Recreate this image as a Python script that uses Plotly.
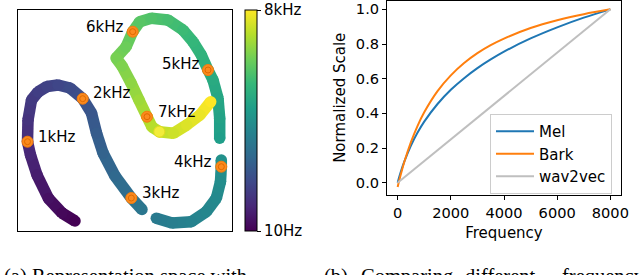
import plotly.graph_objects as go
from plotly.colors import sample_colorscale

# ---------------- Panel (a): representation space ----------------
# frequency (Hz) of each traced point along the embedded curve, its 2-D position, and segment id
curve_freq = [10, 170, 380, 650, 870, 1000, 1200, 1390, 1500, 1600, 1710, 1840, 2000,
              2150, 2335, 2520, 2720, 3000, 3140,
              3300, 3420, 3560, 3680, 3790, 3900, 4000, 4040,
              4450, 4600, 4750, 4890, 5000, 5150, 5300, 5440, 5610, 5760, 5880, 6000,
              6170, 6320, 6420, 6620, 6810, 7000, 7130, 7230, 7400, 7590, 7780, 8000]
curve_x = [57, 44, 30.5, 19, 12.5, 9.5, 10, 13.5, 20, 29, 40, 52, 64.7,
           73.5, 78.5, 85, 97, 113.3, 124,
           138.3, 154, 173.3, 188.3, 198.3, 202.5, 203.3, 203.3,
           201.7, 201.7, 200, 195, 190, 183.3, 175, 165, 150, 133.3, 121.7, 114.7,
           108, 98, 104, 113, 121, 129, 134, 141.3, 155.3, 168.7, 182, 192.7]
curve_y = [10, 18, 32.5, 56, 76, 89.3, 111, 131, 139, 144.5, 146, 143, 132.3,
           118, 98, 78, 55, 33, 21.5,
           12.7, 8, 9.3, 19.3, 32.7, 49.3, 64.3, 71,
           92.7, 112.7, 132.7, 151, 161, 176, 189.3, 201, 211, 212.7, 209.3, 199.3,
           184, 173, 165, 148, 131, 114.3, 104, 99.3, 97.7, 106, 116, 129.3]
curve_seg = [0] * 19 + [1] * 8 + [2] * 24

marked_freqs = [1000, 2000, 3000, 4000, 5000, 6000, 7000]
marked_labels = ["1kHz", "2kHz", "3kHz", "4kHz", "5kHz", "6kHz", "7kHz"]
extra_marked_freq = 7230

cbar_vals = [10, 8000]
cbar_text = ["10Hz", "8kHz"]

# ---------------- Panel (b): frequency scales ----------------
freq_axis = [0, 125, 250, 500, 750, 1000, 1500, 2000, 2500, 3000, 3500, 4000,
             5000, 6000, 7000, 8000]
mel_vals = [0.0, 0.065, 0.121, 0.214, 0.289, 0.352, 0.454, 0.536, 0.603, 0.661,
            0.711, 0.756, 0.832, 0.896, 0.952, 1.0]
bark_vals = [-0.025, 0.051, 0.119, 0.234, 0.328, 0.406, 0.528, 0.619, 0.690, 0.747,
             0.793, 0.831, 0.892, 0.937, 0.972, 1.0]
w2v_freq = [0, 8000]
w2v_vals = [0.0, 1.0]

series_names = ["Mel", "Bark", "wav2vec"]
series_colors = ["#1f77b4", "#ff7f0e", "#bfbfbf"]

W, H = 640, 275
FONT = "DejaVu Sans"

fig = go.Figure()

fmin, fmax = 10, 8000
lw = 11.5
# colored stroke pieces
for i in range(len(curve_freq) - 1):
    if curve_seg[i] != curve_seg[i + 1]:
        continue
    fm = 0.5 * (curve_freq[i] + curve_freq[i + 1])
    col = sample_colorscale("Viridis", [(fm - fmin) / (fmax - fmin)])[0]
    fig.add_trace(go.Scatter(
        x=[curve_x[i], curve_x[i + 1]], y=[curve_y[i], curve_y[i + 1]],
        mode="lines", line=dict(color=col, width=lw),
        showlegend=False, hoverinfo="skip", xaxis="x", yaxis="y"))

# joints + colorbar
fig.add_trace(go.Scatter(
    x=curve_x, y=curve_y, mode="markers", showlegend=False, xaxis="x", yaxis="y",
    marker=dict(size=lw, color=curve_freq, colorscale="Viridis", cmin=fmin, cmax=fmax,
                line=dict(width=0),
                colorbar=dict(x=245 / W, xanchor="left", xpad=0, ypad=0,
                              y=1 - 120.5 / H, yanchor="middle",
                              thickness=12, len=221, lenmode="pixels",
                              outlinecolor="black", outlinewidth=1,
                              tickvals=cbar_vals, ticktext=cbar_text,
                              ticks="outside", ticklen=4, tickcolor="black",
                              tickfont=dict(family=FONT, size=15, color="black"))),
    hoverinfo="skip"))

# orange frequency markers
mk_idx = [curve_freq.index(f) for f in marked_freqs]
mx = [curve_x[i] for i in mk_idx]
my = [curve_y[i] for i in mk_idx]
fig.add_trace(go.Scatter(x=mx, y=my, mode="markers", showlegend=False, xaxis="x", yaxis="y",
                         marker=dict(size=11, color="#fb8a1e", line=dict(width=1, color="#f47c0c")),
                         hoverinfo="skip"))
fig.add_trace(go.Scatter(x=mx, y=my, mode="markers", showlegend=False, xaxis="x", yaxis="y",
                         marker=dict(size=6, symbol="circle-open", color="#e06a00",
                                     line=dict(width=1)), hoverinfo="skip"))
ei = curve_freq.index(extra_marked_freq)
fig.add_trace(go.Scatter(x=[curve_x[ei]], y=[curve_y[ei]], mode="markers", showlegend=False,
                         xaxis="x", yaxis="y",
                         marker=dict(size=11, color="#f2ec3a", line=dict(width=1, color="#e5dc20")),
                         hoverinfo="skip"))

# label offsets (pixels): (xshift, yshift, anchor)
label_off = {
    "1kHz": (8.5, 5, "left"), "2kHz": (8, 5.5, "left"), "3kHz": (8.5, 5, "left"),
    "4kHz": (-7, 5, "right"), "5kHz": (-6, 6, "right"), "6kHz": (-6.5, 5, "right"),
    "7kHz": (9, 5, "left"),
}
for lab, xv, yv in zip(marked_labels, mx, my):
    xs, ys, anc = label_off[lab]
    fig.add_annotation(x=xv, y=yv, xref="x", yref="y", text=lab, showarrow=False,
                       xanchor=anc, yanchor="middle", xshift=xs, yshift=ys,
                       font=dict(family=FONT, size=15, color="black"))

# ---------------- Panel (b) traces ----------------
fig.add_trace(go.Scatter(x=freq_axis, y=mel_vals, mode="lines", name=series_names[0],
                         line=dict(color=series_colors[0], width=2, shape="spline"),
                         xaxis="x2", yaxis="y2", legendgroup="a"))
fig.add_trace(go.Scatter(x=freq_axis, y=bark_vals, mode="lines", name=series_names[1],
                         line=dict(color=series_colors[1], width=2, shape="spline"),
                         xaxis="x2", yaxis="y2", legendgroup="b"))
fig.add_trace(go.Scatter(x=w2v_freq, y=w2v_vals, mode="lines", name=series_names[2],
                         line=dict(color=series_colors[2], width=2),
                         xaxis="x2", yaxis="y2", legendgroup="c"))

axis_common = dict(showline=True, mirror=True, linecolor="black", linewidth=1,
                   showgrid=False, zeroline=False)

fig.update_layout(
    width=W, height=H, margin=dict(l=0, r=0, t=0, b=0, autoexpand=False),
    paper_bgcolor="white", plot_bgcolor="white",
    font=dict(family=FONT, color="black"),
    xaxis=dict(domain=[18 / W, 232 / W], range=[0, 214], showticklabels=False, ticks="",
               anchor="y", **axis_common),
    yaxis=dict(domain=[1 - 231 / H, 1 - 10 / H], range=[0, 221], showticklabels=False,
               ticks="", anchor="x", **axis_common),
    xaxis2=dict(domain=[387 / W, 621 / W], range=[-400, 8400], anchor="y2",
                tickvals=[0, 2000, 4000, 6000, 8000], ticks="outside", ticklen=4,
                tickcolor="black", tickfont=dict(family=FONT, size=14.6),
                title=dict(text="Frequency", font=dict(family=FONT, size=15), standoff=7),
                **axis_common),
    yaxis2=dict(domain=[1 - 195 / H, 1 - 0.5 / H], range=[-0.071, 1.051], anchor="x2",
                tickvals=[0, 0.2, 0.4, 0.6, 0.8, 1.0], tickformat=".1f",
                ticks="outside", ticklen=4, tickcolor="black",
                tickfont=dict(family=FONT, size=14.6),
                title=dict(text="Normalized Scale", font=dict(family=FONT, size=15), standoff=6),
                **axis_common),
    legend=dict(x=612 / W, y=1 - 114 / H, xanchor="right", yanchor="top",
                bgcolor="white", bordercolor="#cccccc", borderwidth=1,
                font=dict(family=FONT, size=15), traceorder="grouped",
                tracegroupgap=0, itemwidth=38),
)

# captions (only their upper part is visible at the bottom edge)
fig.add_annotation(x=2 / W, y=1 - 263 / H, xref="paper", yref="paper", xanchor="left",
                   yanchor="top", text="(a) Representation space with", showarrow=False,
                   font=dict(family="Liberation Serif", size=20.5, color="black"))
cap_b_words = ["(b)", "Comparing", "different", "frequency"]
cap_b_x = [322, 359, 463, 560]
for wd, xp in zip(cap_b_words, cap_b_x):
    fig.add_annotation(x=xp / W, y=1 - 263 / H, xref="paper", yref="paper", xanchor="left",
                       yanchor="top", text=wd, showarrow=False,
                       font=dict(family="Liberation Serif", size=20.5, color="black"))

fig.write_html("out.html", config={"displayModeBar": False, "responsive": False},
               post_script="document.body.style.margin='0';document.body.style.overflow='hidden';")
